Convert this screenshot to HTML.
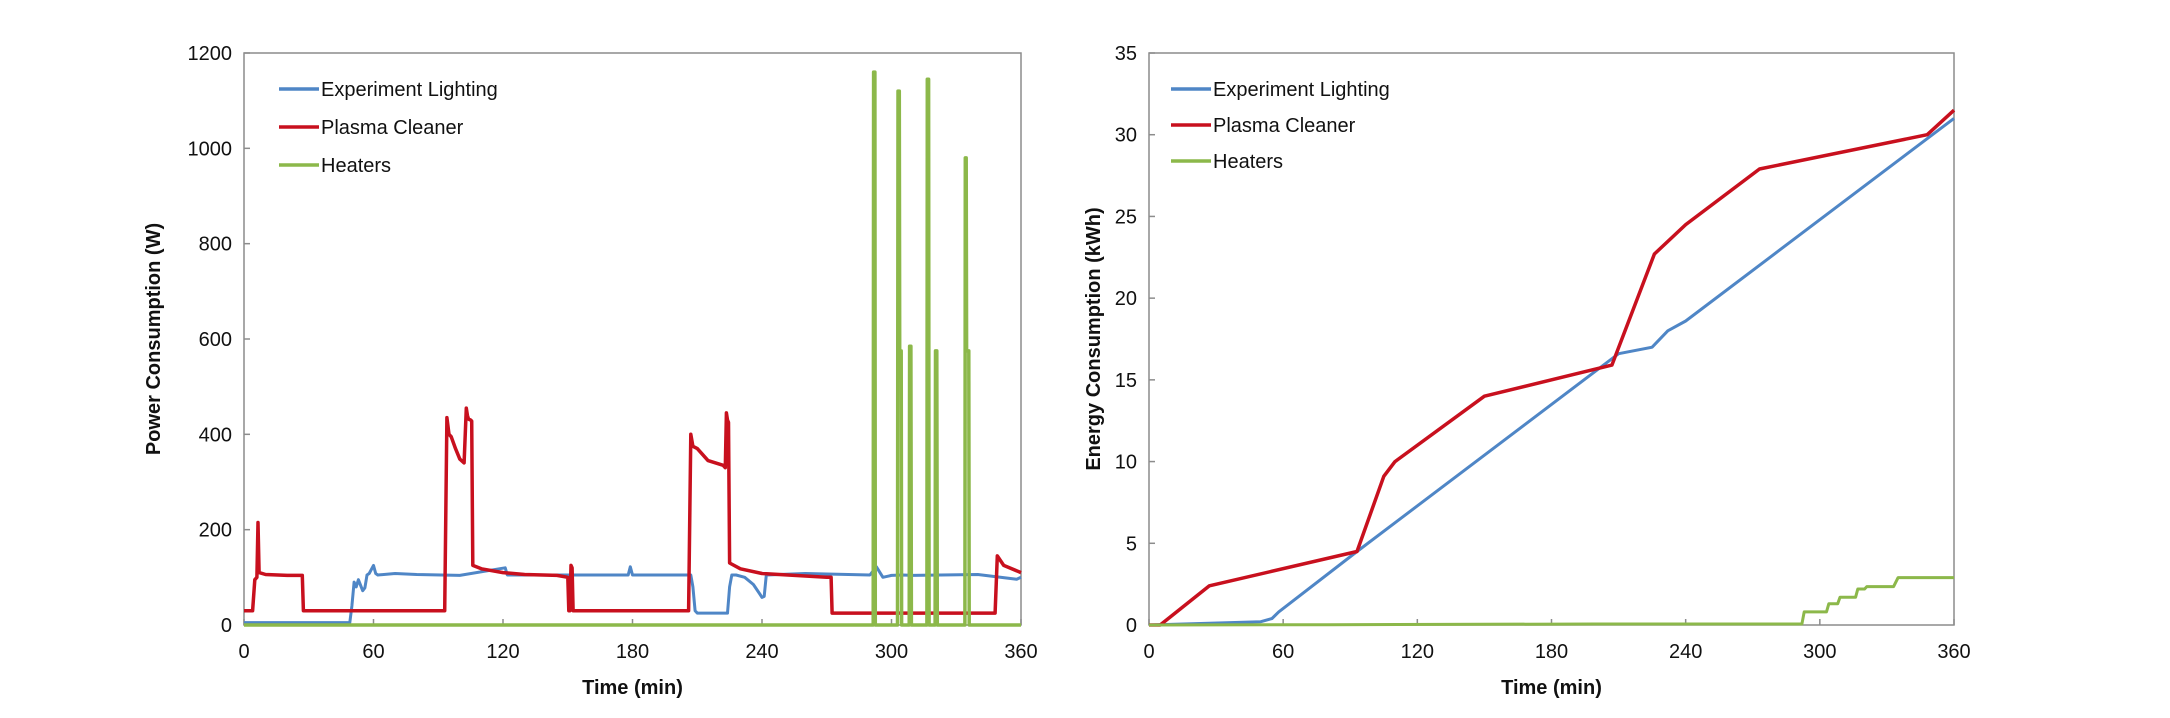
<!DOCTYPE html>
<html><head><meta charset="utf-8"><style>
html,body{margin:0;padding:0;background:#fff;}
svg{display:block;font-family:"Liberation Sans",Arial,sans-serif;}
.tick{font-size:20px;fill:#111;}
.title{font-size:20px;font-weight:bold;fill:#111;}
.leg{font-size:20px;fill:#111;}
</style></head><body>
<svg id="c" width="2170" height="718" viewBox="0 0 2170 718"></svg>
<script>
// ---- Left chart data: power (W) ----
const xTicks = [0,60,120,180,240,300,360];
const powerTicks = [0,200,400,600,800,1000,1200];
const energyTicks = [0,5,10,15,20,25,30,35];
const seriesNames = ["Experiment Lighting","Plasma Cleaner","Heaters"];
const lightT = [0,49,50,51,52,53,55,56,57,58,60,61,62,70,80,100,121,122,123,150,178,179,180,207,208,209,210,224,225,226,228,232,236,239,240,241,242,260,290,293,296,300,305,310,340,358,360];
const lightW = [5,5,40,90,80,95,72,78,105,108,125,108,105,108,106,104,120,105,105,105,105,122,105,105,80,30,25,25,80,105,105,100,85,65,58,60,105,108,105,122,100,104,105,104,106,96,100];
const plasmaT = [0,4,5,6,6.5,7,10,20,27,27.5,93,94,95,96,98,100,102,103,103.5,104,105,105.5,106,110,120,130,145,150,150.5,151,151.5,152,152.5,206,207,208,210,215,222,223,223.5,224,224.5,225,230,240,255,270,272,272.5,347,348,349,352,360];
const plasmaW = [30,30,95,100,215,110,106,104,104,30,30,435,400,395,370,348,340,455,440,432,430,428,125,118,110,106,104,100,30,30,125,120,30,30,400,375,370,345,335,330,445,430,425,130,118,108,104,100,100,25,25,25,145,125,110];
const heaterT = [0,291.5,291.7,292.3,292.5,302.8,303,303.6,303.8,304.5,304.7,308.2,308.4,309,309.2,316.4,316.6,317.2,317.4,320.2,320.4,321,321.2,334,334.2,334.6,334.8,335.8,336,360];
const heaterW = [0,0,1160,1160,0,0,1120,1120,575,575,0,0,585,585,0,0,1145,1145,0,0,575,575,0,0,980,980,575,575,0,0];
// ---- Right chart data: energy (kWh) ----
const eLightT = [0,25,50,55,58,93,210,225,232,240,360];
const eLightE = [0,0.1,0.2,0.4,0.8,4.5,16.6,17.0,18.0,18.6,31.0];
const ePlasmaT = [0,5,27,93,105,110,150,207,226,240,273,348,360];
const ePlasmaE = [0,0,2.4,4.5,9.1,10.0,14.0,15.9,22.7,24.5,27.9,30.0,31.5];
const eHeatT = [0,80,200,292,293,303,304,308,309,316,317,320,321,333,335,360];
const eHeatE = [0,0.02,0.06,0.06,0.8,0.8,1.3,1.3,1.7,1.7,2.2,2.2,2.35,2.35,2.9,2.9];

const colors = ["#4f86c6","#c8101e","#8cb84a"];
const NS = "http://www.w3.org/2000/svg";
const svg = document.getElementById('c');
function el(tag, attrs, parent){const e=document.createElementNS(NS,tag);for(const k in attrs)e.setAttribute(k,attrs[k]);(parent||svg).appendChild(e);return e;}

function drawChart(cfg){
  const g = el('g',{});
  
  
  const L=cfg.x0,R=cfg.x1,T=53,B=625;
  const xs=v=>L+(v-0)/360*(R-L);
  const ys=v=>B-(v/cfg.ymax)*(B-T);
  const frame = el('rect',{x:L,y:T,width:R-L,height:B-T,fill:'none',stroke:'#8c8c8c','stroke-width':1.5},g);
  
  
  cfg.yticks.forEach(v=>{
    el('line',{x1:L,x2:L+6,y1:ys(v),y2:ys(v),stroke:'#8c8c8c','stroke-width':1.5},g);
    const t=el('text',{x:L-12,y:ys(v)+7,'text-anchor':'end',class:'tick'},g);
    t.textContent=v;
    
    
  });
  xTicks.forEach(v=>{
    el('line',{x1:xs(v),x2:xs(v),y1:B,y2:B-6,stroke:'#8c8c8c','stroke-width':1.5},g);
    const t=el('text',{x:xs(v),y:B+33,'text-anchor':'middle',class:'tick'},g);
    t.textContent=v;
    
    
  });
  const xt=el('text',{x:(L+R)/2,y:694,'text-anchor':'middle',class:'title'},g);
  xt.textContent='Time (min)';
  
  
  const yt=el('text',{x:0,y:0,'text-anchor':'middle',class:'title',transform:`translate(${cfg.ytx},${(T+B)/2}) rotate(-90)`},g);
  yt.textContent=cfg.ytitle;
  
  
  cfg.series.forEach((s,i)=>{
    const pts=s.t.map((t,j)=>xs(t).toFixed(1)+','+ys(s.v[j]).toFixed(1)).join(' ');
    const p=el('polyline',{points:pts,fill:'none',stroke:colors[i],'stroke-width':s.w,'stroke-linejoin':'round'},g);
    
    
  });
  seriesNames.forEach((n,i)=>{
    const y=cfg.legY[i];
    const lg=el('g',{},g);
    
    
    el('line',{x1:cfg.legX,x2:cfg.legX+40,y1:y,y2:y,stroke:colors[i],'stroke-width':3.5},lg);
    const t=el('text',{x:cfg.legX+42,y:y+7,class:'leg'},lg);
    t.textContent=n;
  });
}
drawChart({name:'power-chart',x0:244,x1:1021,ymax:1200,yticks:powerTicks,ytx:160,ytitle:'Power Consumption (W)',
  legX:279,legY:[89,127,165],
  series:[{t:lightT,v:lightW,w:3},{t:plasmaT,v:plasmaW,w:3.5},{t:heaterT,v:heaterW,w:3.5}]});
drawChart({name:'energy-chart',x0:1149,x1:1954,ymax:35,yticks:energyTicks,ytx:1100,ytitle:'Energy Consumption (kWh)',
  legX:1171,legY:[89,125,161],
  series:[{t:eLightT,v:eLightE,w:3},{t:ePlasmaT,v:ePlasmaE,w:3.5},{t:eHeatT,v:eHeatE,w:3}]});
</script>
</body></html>
